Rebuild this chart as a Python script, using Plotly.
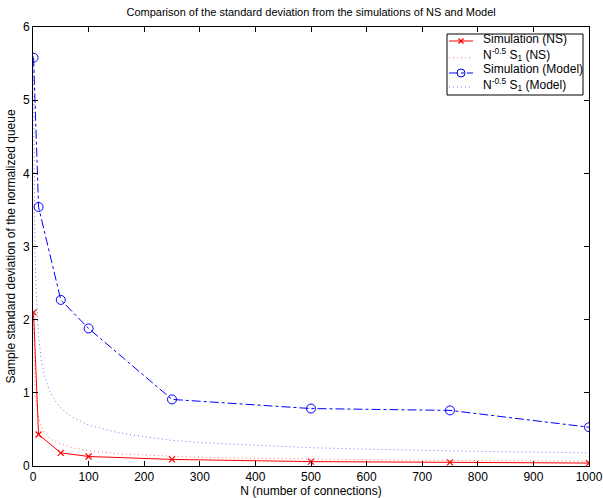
import plotly.graph_objects as go

# Simulated points
N_sim = [1, 10, 50, 100, 250, 500, 750, 1000]
sd_ns = [2.10, 0.43, 0.18, 0.13, 0.09, 0.06, 0.05, 0.04]
sd_model = [5.58, 3.54, 2.27, 1.88, 0.91, 0.785, 0.76, 0.53]

# Dotted reference curves N^-0.5 S1
N_curve = [1, 2, 3, 5, 7, 10, 15, 20, 30, 40, 50, 70, 100, 150, 200, 250,
           300, 400, 500, 600, 700, 800, 900, 1000]
ref_ns = [2.10, 1.48, 1.21, 0.94, 0.79, 0.66, 0.54, 0.47, 0.38, 0.33, 0.30,
          0.25, 0.21, 0.17, 0.15, 0.13, 0.12, 0.105, 0.094, 0.086, 0.079,
          0.074, 0.070, 0.066]
ref_model = [5.60, 3.96, 3.23, 2.50, 2.12, 1.77, 1.45, 1.25, 1.02, 0.89, 0.79,
             0.67, 0.56, 0.46, 0.40, 0.35, 0.32, 0.28, 0.25, 0.23, 0.21, 0.20,
             0.19, 0.18]

x_ticks = [0, 100, 200, 300, 400, 500, 600, 700, 800, 900, 1000]
y_ticks = [0, 1, 2, 3, 4, 5, 6]

legend_labels = ["Simulation (NS)", "N<sup>-0.5</sup> S<sub>1</sub> (NS)",
                 "Simulation (Model)", "N<sup>-0.5</sup> S<sub>1</sub> (Model)"]

RED = "#ff0000"
BLUE = "#0000ff"
FONT = "Liberation Sans, Arial, sans-serif"
DOT = "1px,3px"

W, H = 603, 498
L, R, T, B = 33, 14, 27, 32
PW, PH = W - L - R, H - T - B


def px(x):
    return (x - L) / PW


def py(y):
    return 1 - (y - T) / PH


fig = go.Figure()
fig.add_trace(go.Scatter(
    x=N_sim, y=sd_ns, mode="lines+markers", name=legend_labels[0],
    line=dict(color=RED, width=1),
    marker=dict(symbol="x-thin", size=6, color=RED, line=dict(color=RED, width=1.2)),
))
fig.add_trace(go.Scatter(
    x=N_curve, y=ref_ns, mode="lines", name=legend_labels[1],
    line=dict(color=RED, width=1, dash=DOT), opacity=0.55,
))
fig.add_trace(go.Scatter(
    x=N_sim, y=sd_model, mode="lines+markers", name=legend_labels[2],
    line=dict(color=BLUE, width=1, dash="dashdot"),
    marker=dict(symbol="circle-open", size=9, color=BLUE, line=dict(color=BLUE, width=1)),
))
fig.add_trace(go.Scatter(
    x=N_curve, y=ref_model, mode="lines", name=legend_labels[3],
    line=dict(color=BLUE, width=1, dash=DOT), opacity=0.55,
))

axis_common = dict(
    showline=True, linecolor="black", linewidth=1, mirror="ticks",
    ticks="inside", ticklen=5, tickcolor="black", showgrid=False, zeroline=False,
    automargin=False,
    tickfont=dict(family=FONT, size=12, color="black"),
)

# Manual MATLAB-style legend
shapes = [
    dict(type="rect", xref="paper", yref="paper", x0=px(447), x1=px(583), y0=py(95), y1=py(34),
         line=dict(color="black", width=1), fillcolor="white", layer="above"),
    # entry 1: red solid line + x marker
    dict(type="line", xref="paper", yref="paper", x0=px(449), x1=px(473), y0=py(41), y1=py(41),
         line=dict(color=RED, width=1), layer="above"),
    dict(type="line", xref="paper", yref="paper", x0=px(458.5), x1=px(463.5), y0=py(38.5), y1=py(43.5),
         line=dict(color=RED, width=1.2), layer="above"),
    dict(type="line", xref="paper", yref="paper", x0=px(458.5), x1=px(463.5), y0=py(43.5), y1=py(38.5),
         line=dict(color=RED, width=1.2), layer="above"),
    # entry 2: red dotted
    dict(type="line", xref="paper", yref="paper", x0=px(449), x1=px(473), y0=py(58), y1=py(58),
         line=dict(color="rgba(255,0,0,0.55)", width=1, dash=DOT), layer="above"),
    # entry 3: blue dashdot + circle
    dict(type="line", xref="paper", yref="paper", x0=px(449), x1=px(473), y0=py(73), y1=py(73),
         line=dict(color=BLUE, width=1, dash="dashdot"), layer="above"),
    dict(type="circle", xref="paper", yref="paper", x0=px(457), x1=px(465), y0=py(77), y1=py(69),
         line=dict(color=BLUE, width=1), fillcolor="rgba(0,0,0,0)", layer="above"),
    # entry 4: blue dotted
    dict(type="line", xref="paper", yref="paper", x0=px(449), x1=px(473), y0=py(87), y1=py(87),
         line=dict(color="rgba(0,0,255,0.55)", width=1, dash=DOT), layer="above"),
]

annotations = [
    dict(text=legend_labels[0] + "<br>" + legend_labels[1], xref="paper", yref="paper",
         x=px(482), y=py(31), xanchor="left", yanchor="top", align="left", borderpad=0,
         showarrow=False, font=dict(family=FONT, size=12, color="black")),
    dict(text=legend_labels[2] + "<br>" + legend_labels[3], xref="paper", yref="paper",
         x=px(482), y=py(61), xanchor="left", yanchor="top", align="left", borderpad=0,
         showarrow=False, font=dict(family=FONT, size=12, color="black")),
]

fig.update_layout(
    width=W, height=H,
    margin=dict(l=L, r=R, t=T, b=B),
    paper_bgcolor="white", plot_bgcolor="white",
    font=dict(family=FONT, color="black"),
    title=dict(text="Comparison of the standard deviation from the simulations of NS and Model",
               x=0.516, xanchor="center", y=1 - 12 / H, yref="container", yanchor="middle",
               font=dict(family=FONT, size=11, color="black")),
    xaxis=dict(range=[0, 1000], tickvals=x_ticks, **axis_common,
               title=dict(text="N (number of connections)", standoff=2,
                          font=dict(family=FONT, size=12, color="black"))),
    yaxis=dict(range=[0, 6], tickvals=y_ticks, **axis_common,
               title=dict(text="Sample standard deviation of the normalized queue", standoff=4,
                          font=dict(family=FONT, size=12, color="black"))),
    showlegend=False,
    shapes=shapes,
    annotations=annotations,
)

fig.write_html("out.html")
